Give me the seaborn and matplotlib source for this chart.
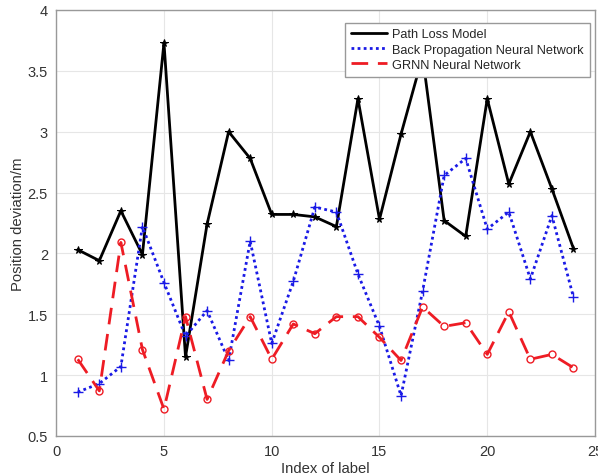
import numpy as np
import pandas as pd
import matplotlib
matplotlib.use("Agg")
import matplotlib.pyplot as plt
import seaborn as sns

# label index 1..24
idx = list(range(1, 25))

path_loss = [2.03, 1.94, 2.35, 1.99, 3.73, 1.15, 2.24, 3.00, 2.78, 2.32,
             2.32, 2.30, 2.22, 3.27, 2.28, 2.98, 3.62, 2.27, 2.14, 3.27,
             2.57, 3.00, 2.53, 2.04]
bp_nn = [0.86, 0.93, 1.07, 2.22, 1.76, 1.32, 1.53, 1.12, 2.10, 1.26,
         1.77, 2.38, 2.34, 1.83, 1.40, 0.83, 1.69, 2.64, 2.78, 2.20,
         2.34, 1.79, 2.31, 1.64]
grnn = [1.13, 0.87, 2.09, 1.21, 0.72, 1.48, 0.80, 1.20, 1.48, 1.13,
        1.42, 1.34, 1.48, 1.48, 1.31, 1.12, 1.56, 1.40, 1.43, 1.17,
        1.52, 1.13, 1.17, 1.06]

names = ["Path Loss Model", "Back Propagation Neural Network", "GRNN Neural Network"]

sns.set_style("whitegrid")
plt.rcParams["font.family"] = ["Liberation Sans", "DejaVu Sans"]

fig = plt.figure(figsize=(5.98, 4.77), dpi=100)
ax = fig.add_axes([0.094, 0.084, 0.901, 0.893])

blue = "#1a1ae6"
red = "#ee1c24"

sns.lineplot(x=idx, y=path_loss, ax=ax, color="black", lw=2,
             marker="*", markersize=5.5, mfc="black", mec="black",
             label=names[0])
sns.lineplot(x=idx, y=bp_nn, ax=ax, color=blue, lw=2, linestyle=(0, (1, 1.2)),
             marker="+", markersize=7, mew=1, mec=blue, label=names[1])
sns.lineplot(x=idx, y=grnn, ax=ax, color=red, lw=2, linestyle=(0, (6, 3.5)),
             marker="o", markersize=5, mfc="none", mec=red, mew=1,
             label=names[2])

ax.set_xlim(0, 25)
ax.set_ylim(0.5, 4)
ax.set_xticks(range(0, 26, 5))
ax.set_yticks(np.arange(0.5, 4.01, 0.5))
ax.set_yticklabels(["0.5", "1", "1.5", "2", "2.5", "3", "3.5", "4"])
ax.set_xlabel("Index of label", fontsize=10.7, color="#333333", labelpad=2)
ax.set_ylabel("Position deviation/m", fontsize=10.7, color="#333333", labelpad=2)
ax.tick_params(direction="in", length=3, labelsize=10.5, colors="#555555",
               labelcolor="#333333", pad=6)
ax.grid(True, color="#e6e6e6", lw=0.8)
for s in ax.spines.values():
    s.set_color("#999999")
    s.set_linewidth(1)

leg = ax.legend(loc="upper right", bbox_to_anchor=(0.99, 0.97), fontsize=9.2,
                frameon=True, fancybox=False, handlelength=2.85,
                borderpad=0.45, labelspacing=0.25, handletextpad=0.4,
                borderaxespad=0)
leg.get_frame().set_edgecolor("#999999")
leg.get_frame().set_linewidth(1)
leg.get_frame().set_alpha(1)
for h in leg.legend_handles:
    h.set_marker("")

fig.savefig("out.png", dpi=100)
